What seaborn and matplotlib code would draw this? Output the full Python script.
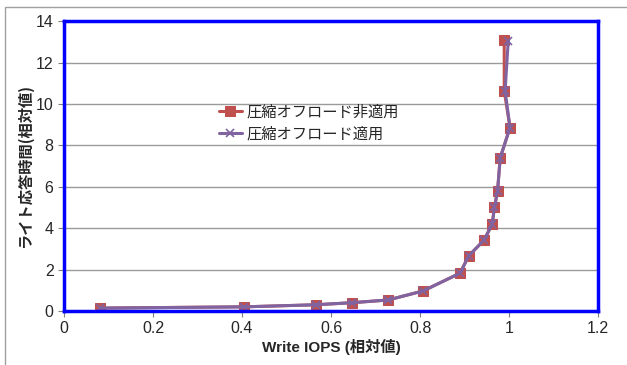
import pandas as pd
import matplotlib.pyplot as plt
import seaborn as sns

# Write IOPS vs write latency (relative values)
iops_off = [0.082, 0.405, 0.566, 0.647, 0.728, 0.807, 0.890, 0.909, 0.944,
            0.962, 0.967, 0.974, 0.980, 1.002, 0.989, 0.989]
lat_off = [0.14, 0.20, 0.30, 0.40, 0.53, 0.97, 1.83, 2.66, 3.43,
           4.20, 5.00, 5.80, 7.40, 8.86, 10.63, 13.10]
iops_on = [0.082, 0.405, 0.566, 0.647, 0.728, 0.807, 0.890, 0.909, 0.944,
           0.962, 0.967, 0.974, 0.980, 1.002, 0.991, 0.998]
lat_on = [0.14, 0.20, 0.30, 0.40, 0.53, 0.97, 1.83, 2.66, 3.43,
          4.20, 5.00, 5.80, 7.40, 8.86, 10.63, 13.05]
label_off = '圧縮オフロード非適用'
label_on = '圧縮オフロード適用'

sns.set_style('white')
plt.rcParams['font.family'] = ['Liberation Sans', 'Noto Sans CJK JP', 'DejaVu Sans']

fig = plt.figure(figsize=(6.27, 3.65), dpi=100)
fig.patches.append(plt.Rectangle((0.008, -0.05), 1.2, 1.03, transform=fig.transFigure,
                                 fill=False, edgecolor='#a0a0a0', linewidth=1))
ax = fig.add_axes([0.102, 0.148, 0.852, 0.794])

for y in range(2, 14, 2):
    ax.axhline(y, color='#9a9a9a', linewidth=1, zorder=0)

sns.lineplot(x=iops_off, y=lat_off, ax=ax, sort=False, estimator=None, color='#C0504D',
             linewidth=2.2, marker='s', markersize=7, markeredgecolor='#C0504D',
             label=label_off)
sns.lineplot(x=iops_on, y=lat_on, ax=ax, sort=False, estimator=None, color='#8064A2',
             linewidth=2.2, marker='x', markersize=6, markeredgecolor='#8064A2',
             markeredgewidth=1.2, label=label_on)

ax.set_xlim(0, 1.2)
ax.set_ylim(0, 14)
ax.set_xticks([0, 0.2, 0.4, 0.6, 0.8, 1, 1.2])
ax.set_xticklabels(['0', '0.2', '0.4', '0.6', '0.8', '1', '1.2'])
ax.set_yticks(range(0, 15, 2))
ax.tick_params(axis='both', labelsize=11.5, length=4, direction='out', color='#808080',
               bottom=True, left=True)
for s in ax.spines.values():
    s.set_color('#0000ff')
    s.set_linewidth(2.5)

ax.set_xlabel('Write IOPS (相対値)', fontsize=11, fontweight='bold',
              family=['Liberation Sans', 'Noto Sans CJK JP'], labelpad=2)
ax.set_ylabel('ライト応答時間(相対値)', fontsize=11, fontweight='bold',
              family=['Noto Sans CJK JP', 'Liberation Sans'], labelpad=2)

leg = ax.legend(loc='center left', bbox_to_anchor=(0.29, 0.649), frameon=False,
                handlelength=1.5, handletextpad=0.3, labelspacing=0.3,
                borderaxespad=0, borderpad=0,
                prop={'family': ['Noto Sans CJK JP'], 'size': 11})

fig.savefig('out.png', dpi=100)
